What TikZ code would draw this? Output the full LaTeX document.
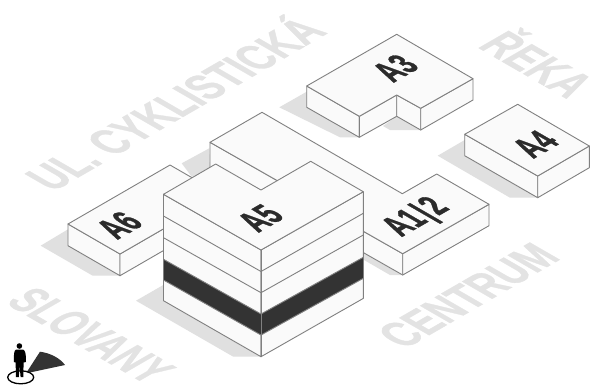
\documentclass[tikz,border=0pt]{standalone}
\usepackage{fontspec}
\setmainfont{Liberation Sans}
\newfontfamily\labfont[UprightFont=* Bold,FakeBold=1.2]{Liberation Sans}
\newfontfamily\wmfont[UprightFont=* Bold,FakeBold=1.0]{Liberation Sans}
\tikzset{
  ln/.style={draw=linegray,line width=0.9pt,line join=round,fill=facefill},
  shad/.style={fill=shadowgray,draw=none},
  lab/.style={inner sep=0pt,anchor=base,text=labeldark,font=\fontsize{40}{40}\labfont,cm={0.54,0.312,-0.866,0.5,(0,0)}},
  wmup/.style={inner sep=0pt,anchor=base,text=markgray,font=\fontsize{50}{50}\wmfont,cm={0.64,0.37,-0.866,0.5,(0,0)}},
  wmuptwo/.style={inner sep=0pt,anchor=base,text=markgray,font=\fontsize{50}{50}\wmfont,cm={0.63,0.364,-0.866,0.5,(0,0)}},
  wmdn/.style={inner sep=0pt,anchor=base,text=markgray,font=\fontsize{50}{50}\wmfont,cm={0.60,-0.346,0.866,0.5,(0,0)}},
  wmdntwo/.style={inner sep=0pt,anchor=base,text=markgray,font=\fontsize{50}{50}\wmfont,cm={0.64,-0.37,0.866,0.5,(0,0)}},
}
\definecolor{linegray}{HTML}{808080}
\definecolor{facefill}{HTML}{FAFAFA}
\definecolor{shadowgray}{HTML}{E0E0E0}
\definecolor{labeldark}{HTML}{2B2B2B}
\definecolor{markgray}{HTML}{E3E3E3}
\definecolor{banddark}{HTML}{333333}
\begin{document}
\begin{tikzpicture}[x=1pt,y=-1pt]
\useasboundingbox (0,0) rectangle (591,384);
\fill[white] (0,0) rectangle (591,384);
\begin{scope}
\clip (0,0) rectangle (591,384);
% street labels
\node[wmup] (cyk) at (190.5,112.5) {UL. CYKLISTICKÁ};
\node[wmuptwo] (cen) at (483,304) {CENTRUM};
\node[wmdn] (slo) at (76,344) {SLOVANY};
\node[wmdntwo] (rek) at (522,73) {ŘEKA};
% shadows
\fill[shad] (279.3,107.3) -- (306.7,91.7) -- (359.3,137.3) -- (340,137.3) -- cycle;
\fill[shad] (396.7,116.5) -- (383,126) -- (390,130) -- (420.7,130) -- cycle;
\fill[shad] (437.7,155.7) -- (464.7,140) -- (537.7,197.7) -- (510,197.7) -- cycle;
\fill[shad] (40.7,245.7) -- (68,229.3) -- (120,275.7) -- (92.7,275.7) -- cycle;
\fill[shad] (181.7,163.3) -- (209.3,148.3) -- (210,170) -- (191.7,176.7) -- cycle;
\fill[shad] (363.3,252.7) -- (402.7,275) -- (390,275) -- (363.3,259.6) -- cycle;
\fill[shad] (136,300.7) -- (163.3,285) -- (261,356.7) -- (233.3,356.7) -- cycle;
\end{scope}
% A6
\draw[ln] (68,224) -- (120,254) -- (120,275.7) -- (68,245.7) -- cycle;
\draw[ln] (120,254) -- (222,195) -- (222,216.7) -- (120,275.7) -- cycle;
\draw[ln] (68,224) -- (170,165) -- (222,195) -- (120,254) -- cycle;
% A1|2
\draw[ln] (210,142.3) -- (276.7,180.3) -- (276.7,205) -- (210,175) -- cycle;
\draw[ln] (340,218) -- (402.7,253.7) -- (402.7,275) -- (340,239.3) -- cycle;
\draw[ln] (402.7,253.7) -- (489,204.3) -- (489,225.7) -- (402.7,275) -- cycle;
\draw[ln] (210,142.3) -- (262,112.3) -- (402.3,193.7) -- (436.7,174) -- (489,204.3) -- (402.7,253.7) -- (340,218) -- (276.7,180.3) -- cycle;
% A5
\draw[ln] (163.5,194.3) -- (261,250) -- (261,356.7) -- (163.5,300.7) -- cycle;
\draw[ln] (261,250) -- (363.3,191.7) -- (363.3,298.4) -- (261,356.7) -- cycle;
\fill[banddark] (163.5,259.3) -- (261,314) -- (363.3,257.3) -- (363.3,278.3) -- (261,335) -- (163.5,280) -- cycle;
\draw[ln,fill=none] (163.5,216) -- (261,271.5) -- (363.3,213.3);
\draw[ln,fill=none] (163.5,237.7) -- (261,292.7) -- (363.3,235);
\draw[ln,fill=none] (163.5,259.3) -- (261,314) -- (363.3,257.3);
\draw[ln,fill=none] (163.5,280) -- (261,335) -- (363.3,278.3);
\draw[ln,fill=none] (261,250) -- (261,356.7);
\draw[ln,fill=none] (163.5,194.3) -- (163.5,300.7);
\draw[ln,fill=none] (363.3,191.7) -- (363.3,298.4);
\draw[ln] (163.5,194.3) -- (215.7,164) -- (261,190) -- (310.7,161.3) -- (363.3,191.7) -- (261,250) -- cycle;
% A3
\draw[ln] (306.7,86) -- (359.3,116.3) -- (359.3,137.3) -- (306.7,107.3) -- cycle;
\draw[ln] (359.3,116.3) -- (396.7,95) -- (396.7,116.3) -- (359.3,137.3) -- cycle;
\draw[ln] (396.7,95) -- (420.7,108.3) -- (420.7,130) -- (396.7,116.3) -- cycle;
\draw[ln] (420.7,108.3) -- (473,78.7) -- (473,100) -- (420.7,130) -- cycle;
\draw[ln] (306.7,86) -- (396.7,34.3) -- (473,78.7) -- (420.7,108.3) -- (396.7,95) -- (359.3,116.3) -- cycle;
% A4
\draw[ln] (464.7,134.3) -- (537.7,176) -- (537.7,197.7) -- (464.7,155.7) -- cycle;
\draw[ln] (537.7,176) -- (589.3,146) -- (589.3,167.7) -- (537.7,197.7) -- cycle;
\draw[ln] (464.7,134.3) -- (517.7,104.3) -- (589.3,146) -- (537.7,176) -- cycle;
% labels
\node[lab] (a3) at (407,75) {A3};
\node[lab] (a4) at (547,151) {A4};
\node[lab] (a5) at (272,225) {A5};
\node[lab] (a6) at (131,232) {A6};
\node[lab] (a12) at (426,223) {A1\hspace{.08em}|\hspace{.08em}2};
% observer
\fill[banddark] (26,373.3) -- (40,351.7) .. controls (50,353) and (60,358) .. (65,365) -- cycle;
\draw[draw=black,line width=1.3pt,fill=white] (20.7,377.3) ellipse (13 and 6.5);
\fill[black] (19.4,346) circle (2.8);
\fill[black] (16,349.5) -- (23,349.5) .. controls (25.5,350.5) and (26,354) .. (26,362) -- (23.6,362.5) -- (23.3,377) -- (20.6,377) -- (19.6,366) -- (18.8,377) -- (16,377) -- (15.6,362.5) -- (13.8,362) .. controls (13.8,354) and (14,350.5) .. (16,349.5) -- cycle;
\end{tikzpicture}
\end{document}
